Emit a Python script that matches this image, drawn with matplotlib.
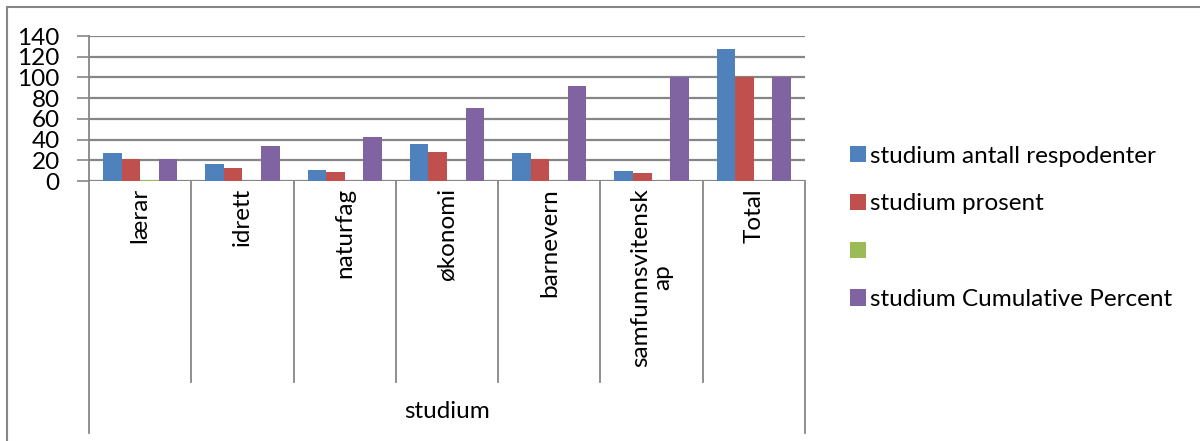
import numpy as np
import matplotlib
matplotlib.use("Agg")
import matplotlib.pyplot as plt
from matplotlib.patches import Rectangle

plt.rcParams["font.family"] = ["Lato", "DejaVu Sans"]

categories = ["lærar", "idrett", "naturfag", "økonomi", "barnevern", "samfunnsvitensk\nap", "Total"]
antall = [27, 16, 11, 36, 27, 10, 127]
prosent = [21.3, 12.6, 8.7, 28.3, 21.3, 7.9, 100]
blank = [1, 0, 0, 0, 0, 0, 0]
cumulative = [21.3, 33.9, 42.5, 70.9, 92.1, 100, 100]

series_labels = ["studium antall respodenter", "studium prosent", "", "studium Cumulative Percent"]
colors = ["#4f81bd", "#c0504d", "#9bbb59", "#8064a2"]
grid_col = "#868686"
fs = 17.5

W, H = 1200, 441
fig = plt.figure(figsize=(W / 100, H / 100), dpi=100)

# plot area in pixels
x0, x1, y_top, y_base = 89, 805, 36, 181
ax = fig.add_axes([x0 / W, (H - y_base) / H, (x1 - x0) / W, (y_base - y_top) / H])

n = len(categories)
x = np.arange(n)
bw = 1 / 5.5
handles = []
for i, (vals, c) in enumerate(zip([antall, prosent, blank, cumulative], colors)):
    b = ax.bar(x - 2 * bw + bw / 2 + i * bw, vals, width=bw, color=c,
               linewidth=0, zorder=3)
    handles.append(b)

ax.set_xlim(-0.5, n - 0.5)
ax.set_ylim(0, 140)
ax.set_yticks(range(0, 141, 20))
ax.yaxis.grid(True, color=grid_col, linewidth=1.6, zorder=0)
ax.tick_params(axis="y", length=9, width=1.2, color=grid_col, labelsize=fs, pad=12)
ax.set_xticks([])
for s in ["top", "right", "bottom"]:
    ax.spines[s].set_visible(False)
ax.spines["left"].set_color(grid_col)
ax.spines["left"].set_linewidth(1.3)

# category area lines
tr = ax.get_xaxis_transform()
ph = y_base - y_top
inner_bot = -(382 - y_base) / ph
outer_bot = -(433 - y_base) / ph
for k in range(1, n):
    ax.plot([k - 0.5, k - 0.5], [0, inner_bot], transform=tr, color=grid_col,
            linewidth=1.3, clip_on=False)
for xe in [-0.5, n - 0.5]:
    ax.plot([xe, xe], [0, outer_bot], transform=tr, color=grid_col,
            linewidth=1.3, clip_on=False)

lab_top = -(188 - y_base) / ph
for k, name in enumerate(categories):
    ax.text(k, lab_top, name, transform=tr, rotation=90, ha="center", va="top",
            fontsize=fs, multialignment="center", linespacing=1.1)
ax.text((n - 1) / 2, -(412 - y_base) / ph, "studium", transform=tr,
        ha="center", va="center", fontsize=fs)

# legend
ax.legend(handles, series_labels, loc="upper left",
          bbox_to_anchor=(840 / W, (H - 136) / H), bbox_transform=fig.transFigure,
          frameon=False, fontsize=fs, handlelength=0.65, handleheight=0.65,
          handletextpad=0.2, labelspacing=1.1, borderaxespad=0)

# chart area border
fig.add_artist(Rectangle((6.5 / W, -0.1), 1.2, (H - 6.5) / H + 0.1,
                         transform=fig.transFigure, fill=False,
                         edgecolor=grid_col, linewidth=1.5))

fig.savefig("out.png", dpi=100)
